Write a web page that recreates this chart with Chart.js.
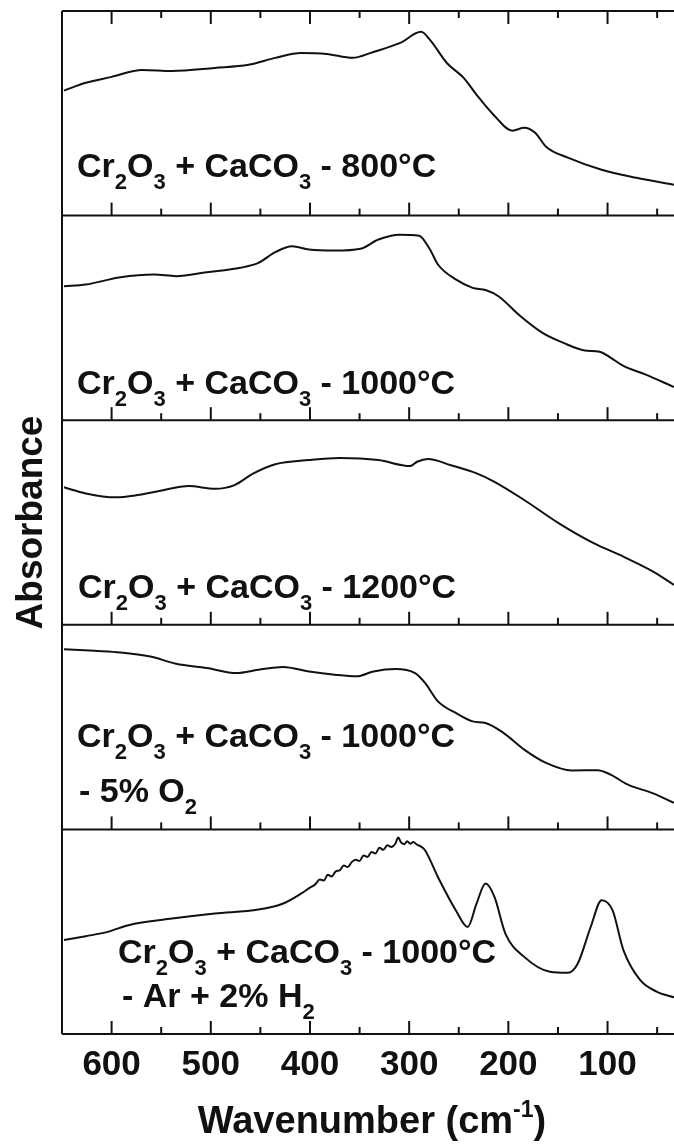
<!DOCTYPE html>
<html>
<head>
<meta charset="utf-8">
<script src="https://cdn.jsdelivr.net/npm/chart.js@4.4.1/dist/chart.umd.min.js"></script>
<style>
  html, body { margin: 0; padding: 0; background: #fff; }
  #wrap { width: 674px; height: 1144px; }
</style>
</head>
<body>
<div id="wrap"><canvas id="chart" width="674" height="1144"></canvas></div>
<script>
// values: wavenumber (cm-1) and absorbance (arb. units, 0-100 per panel)
const wn800 = [648, 626, 600, 569, 539, 496, 462, 435, 409, 383, 357, 336, 309, 288, 279, 262, 245, 232, 215, 196, 184, 173, 162, 140, 106, 71, 33];
const abs800 = [61.1, 64.9, 67.8, 71.2, 70.7, 72.2, 73.7, 77.1, 79.5, 79.0, 77.1, 80.0, 84.4, 89.8, 85.9, 74.6, 67.3, 59.0, 49.3, 41.5, 42.9, 40.5, 33.7, 28.3, 22.4, 18.5, 15.1];

const wn1000 = [648, 626, 591, 557, 535, 504, 470, 452, 435, 418, 401, 375, 349, 331, 310, 290, 279, 271, 253, 236, 223, 210, 188, 166, 145, 123, 108, 97, 84, 62, 33];
const abs1000 = [65.5, 66.3, 69.9, 71.2, 70.4, 72.3, 74.5, 76.9, 82.1, 85.0, 83.4, 82.9, 83.8, 88.3, 90.7, 90.2, 83.4, 76.1, 68.8, 64.7, 63.6, 60.6, 50.9, 42.8, 37.9, 34.1, 33.5, 30.6, 26.5, 22.4, 16.2];

const wn1200 = [648, 626, 596, 574, 552, 522, 496, 476, 457, 435, 401, 370, 331, 299, 292, 281, 258, 232, 214, 184, 149, 114, 84, 54, 33];
const abs1200 = [67.2, 64.2, 62.3, 63.4, 65.4, 67.8, 66.5, 68.3, 74.0, 78.5, 80.5, 81.5, 80.5, 77.6, 79.7, 81.0, 78.0, 74.0, 69.9, 61.0, 49.6, 39.9, 33.3, 26.0, 19.5];

const wnO2 = [648, 617, 591, 561, 535, 504, 474, 452, 427, 401, 375, 353, 336, 314, 294, 284, 271, 253, 236, 223, 205, 184, 162, 136, 110, 97, 80, 54, 33];
const absO2 = [88.1, 87.3, 86.5, 84.5, 81.0, 78.9, 76.4, 78.0, 79.4, 77.2, 75.6, 74.8, 77.2, 78.4, 76.4, 71.6, 62.6, 56.9, 52.8, 52.0, 47.2, 39.0, 32.5, 28.8, 28.9, 26.8, 22.0, 17.6, 13.0];

const wnH2 = [648, 626, 604, 583, 539, 496, 452, 427, 409, 400, 395, 390, 386, 382, 378, 374, 370, 366, 362, 358, 354, 350, 346, 342, 338, 334, 330, 326, 322, 318, 314, 311, 308, 305, 302, 299, 296, 292, 288, 284, 271, 253, 241, 232, 223, 214, 203, 184, 158, 140, 130, 117, 106, 95, 84, 67, 50, 33];
const absH2 = [45.9, 47.8, 49.9, 53.2, 56.4, 58.9, 60.8, 63.8, 68.6, 71.5, 73.0, 75.5, 75.0, 77.8, 77.0, 79.5, 80.0, 82.4, 81.6, 84.0, 85.2, 84.6, 87.3, 86.5, 89.0, 88.2, 91.0, 90.0, 92.2, 91.4, 93.0, 96.0, 93.5, 92.8, 94.2, 93.0, 93.8, 92.5, 91.6, 89.8, 76.7, 60.5, 52.3, 63.8, 73.5, 67.0, 49.1, 37.7, 30.4, 29.9, 34.5, 52.3, 65.4, 60.5, 41.0, 26.3, 20.6, 17.9];

const majorTicks = [600, 500, 400, 300, 200, 100];
const minorTicks = [550, 450, 350, 250, 150, 50];

// panel captions: [text, isSubscript]
const label800 = [[['Cr', 0], ['2', 1], ['O', 0], ['3', 1], [' + CaCO', 0], ['3', 1], [' - 800°C', 0]]];
const label1000 = [[['Cr', 0], ['2', 1], ['O', 0], ['3', 1], [' + CaCO', 0], ['3', 1], [' - 1000°C', 0]]];
const label1200 = [[['Cr', 0], ['2', 1], ['O', 0], ['3', 1], [' + CaCO', 0], ['3', 1], [' - 1200°C', 0]]];
const labelO2 = [[['Cr', 0], ['2', 1], ['O', 0], ['3', 1], [' + CaCO', 0], ['3', 1], [' - 1000°C', 0]], [['- 5% O', 0], ['2', 1]]];
const labelH2 = [[['Cr', 0], ['2', 1], ['O', 0], ['3', 1], [' + CaCO', 0], ['3', 1], [' - 1000°C', 0]], [['- Ar + 2% H', 0], ['2', 1]]];

const series = [
    { id: 'y1', wn: wn800, abs: abs800, label: label800 },
    { id: 'y2', wn: wn1000, abs: abs1000, label: label1000 },
    { id: 'y3', wn: wn1200, abs: abs1200, label: label1200 },
    { id: 'y4', wn: wnO2, abs: absO2, label: labelO2 },
    { id: 'y5', wn: wnH2, abs: absH2, label: labelH2 }
];

// caption placement per panel: x, and baseline offset from the panel bottom
const captionPos = [
    [{ x: 77, dy: -39 }],
    [{ x: 77, dy: -26 }],
    [{ x: 78, dy: -27 }],
    [{ x: 77, dy: -82 }, { x: 79, dy: -27 }],
    [{ x: 118, dy: -71 }, { x: 122, dy: -27 }]
];

const FONT = '"Liberation Sans", Arial, Helvetica, sans-serif';
const INK = '#111';

function drawRich(ctx, parts, x, y, size, subSize, subDrop) {
    let cx = x;
    parts.forEach(([txt, sub]) => {
        ctx.font = 'bold ' + (sub ? subSize : size) + 'px ' + FONT;
        ctx.fillText(txt, cx, sub ? y + subDrop : y);
        cx += ctx.measureText(txt).width;
    });
}

const framePlugin = {
    id: 'frame',
    afterDraw(chart) {
        const ctx = chart.ctx;
        const area = chart.chartArea;
        const xs = chart.scales.x;
        ctx.save();
        ctx.strokeStyle = INK;
        ctx.fillStyle = INK;
        ctx.lineWidth = 2;

        // left border
        ctx.beginPath();
        ctx.moveTo(area.left, area.top);
        ctx.lineTo(area.left, area.bottom);
        ctx.stroke();

        series.forEach((s, i) => {
            const ys = chart.scales[s.id];
            const lines = [ys.bottom];
            if (i === 0) lines.push(ys.top);
            lines.forEach(yy => {
                const dir = yy === ys.bottom ? -1 : 1;
                ctx.lineWidth = 2;
                ctx.beginPath();
                ctx.moveTo(area.left, yy);
                ctx.lineTo(area.right, yy);
                ctx.stroke();
                majorTicks.forEach(v => {
                    const px = xs.getPixelForValue(v);
                    ctx.beginPath();
                    ctx.moveTo(px, yy);
                    ctx.lineTo(px, yy + dir * 13);
                    ctx.stroke();
                });
                minorTicks.forEach(v => {
                    const px = xs.getPixelForValue(v);
                    ctx.beginPath();
                    ctx.moveTo(px, yy);
                    ctx.lineTo(px, yy + dir * 7);
                    ctx.stroke();
                });
            });

            // captions
            ctx.textAlign = 'left';
            ctx.textBaseline = 'alphabetic';
            s.label.forEach((parts, j) => {
                const pos = captionPos[i][j];
                drawRich(ctx, parts, pos.x, ys.bottom + pos.dy, 34, 22, 12);
            });
        });

        // y title
        ctx.save();
        ctx.translate(42, (area.top + area.bottom) / 2);
        ctx.rotate(-Math.PI / 2);
        ctx.textAlign = 'center';
        ctx.textBaseline = 'alphabetic';
        ctx.font = 'bold 37px ' + FONT;
        ctx.fillText('Absorbance', 0, 0);
        ctx.restore();

        // x title with superscript
        const main = 'Wavenumber (cm', sup = '-1', close = ')';
        ctx.font = 'bold 38px ' + FONT;
        const w1 = ctx.measureText(main).width;
        const w3 = ctx.measureText(close).width;
        ctx.font = 'bold 23px ' + FONT;
        const w2 = ctx.measureText(sup).width;
        let tx = 372 - (w1 + w2 + w3) / 2;
        const base = 1133;
        ctx.font = 'bold 38px ' + FONT;
        ctx.fillText(main, tx, base);
        tx += w1;
        ctx.font = 'bold 23px ' + FONT;
        ctx.fillText(sup, tx, base - 16);
        tx += w2;
        ctx.font = 'bold 38px ' + FONT;
        ctx.fillText(close, tx, base);
        ctx.restore();
    }
};

const yScales = {};
series.forEach((s, i) => {
    yScales[s.id] = {
        type: 'linear',
        position: 'left',
        stack: 'panels',
        stackWeight: 1,
        weight: 10 - i,
        min: 0,
        max: 100,
        offset: false,
        display: true,
        grid: { display: false, drawTicks: false },
        border: { display: false },
        ticks: { display: false }
    };
});

new Chart(document.getElementById('chart'), {
    type: 'line',
    data: {
        datasets: series.map(s => ({
            data: s.wn.map((w, k) => ({ x: w, y: s.abs[k] })),
            yAxisID: s.id,
            borderColor: INK,
            borderWidth: 2,
            pointRadius: 0,
            fill: false,
            cubicInterpolationMode: 'monotone'
        }))
    },
    options: {
        responsive: false,
        animation: false,
        devicePixelRatio: 1,
        layout: { padding: { left: 62, top: 11, right: 0, bottom: 0 } },
        plugins: {
            legend: { display: false },
            tooltip: { enabled: false }
        },
        scales: Object.assign({
            x: {
                type: 'linear',
                position: 'bottom',
                reverse: true,
                min: 33,
                max: 650,
                grid: { display: false, drawTicks: false },
                border: { display: false },
                afterBuildTicks: axis => {
                    axis.ticks = majorTicks.map(v => ({ value: v }));
                },
                afterFit: axis => {
                    axis.height = 110;
                },
                ticks: {
                    color: INK,
                    padding: 10,
                    maxRotation: 0,
                    font: { family: FONT, size: 35, weight: 'bold' }
                }
            }
        }, yScales)
    },
    plugins: [framePlugin]
});
</script>
</body>
</html>
